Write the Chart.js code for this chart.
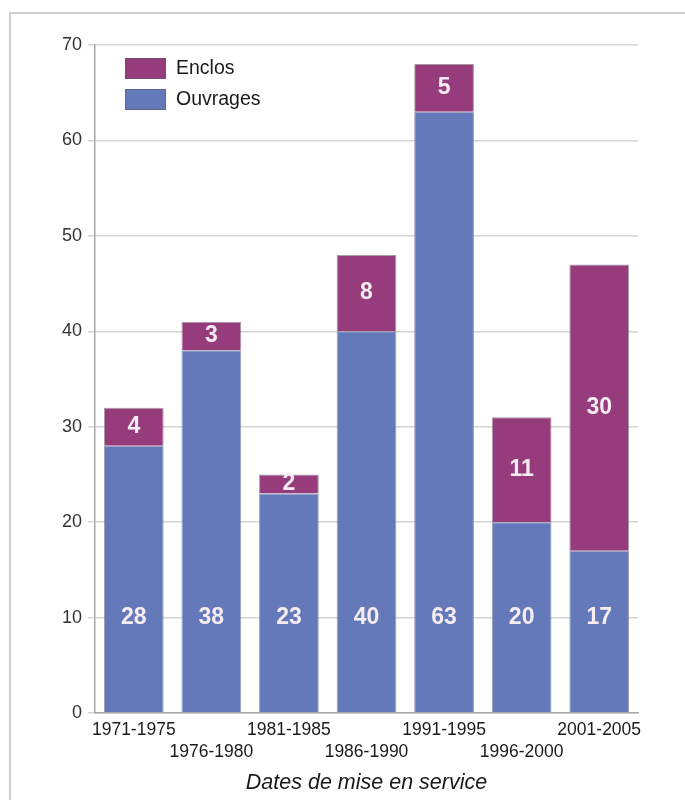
<!DOCTYPE html>
<html>
<head>
<meta charset="utf-8">
<script src="https://cdn.jsdelivr.net/npm/chart.js@4/dist/chart.umd.min.js"></script>
<style>
    html, body { margin: 0; padding: 0; background: #fff; }
    #frame {
        position: absolute; left: 9px; top: 12px; width: 676px; height: 788px;
        border-top: 2px solid #cfcfcf; border-left: 2px solid #cfcfcf; box-sizing: border-box;
    }
    #wrap { position: absolute; left: 0; top: 0; width: 685px; height: 800px; }
</style>
</head>
<body>
<div id="frame"></div>
<div id="wrap"><canvas id="graphique" width="685" height="800"></canvas></div>
<script>
const periodes = ['1971-1975', '1976-1980', '1981-1985', '1986-1990', '1991-1995', '1996-2000', '2001-2005'];
const ouvrages = [28, 38, 23, 40, 63, 20, 17];
const enclos = [4, 3, 2, 8, 5, 11, 30];
const graduations = [0, 10, 20, 30, 40, 50, 60, 70];

const couleurEnclos = '#963c7c';
const couleurOuvrages = '#6479ba';

document.addEventListener("DOMContentLoaded", function (e) {

    // etiquettes blanches dans les barres + legende dans le cadre
    const etiquettes = {
        id: 'etiquettes',
        afterDatasetsDraw(chart) {
            const ctx = chart.ctx;
            const y = chart.scales.y;
            const x = chart.scales.x;
            ctx.save();
            ctx.fillStyle = '#f6ecf2';
            ctx.font = 'bold 23px "Liberation Sans", Arial, sans-serif';
            ctx.textAlign = 'center';
            ctx.textBaseline = 'middle';
            periodes.forEach(function (p, i) {
                const cx = x.getPixelForValue(i);
                ctx.fillText(String(ouvrages[i]), cx, y.getPixelForValue(10));
                ctx.fillText(String(enclos[i]), cx, y.getPixelForValue(ouvrages[i] + enclos[i] / 2));
            });

            // legende
            const items = [['Enclos', couleurEnclos], ['Ouvrages', couleurOuvrages]];
            ctx.font = '19.5px "Liberation Sans", Arial, sans-serif';
            ctx.textAlign = 'left';
            items.forEach(function (it, k) {
                const top = 58 + k * 31;
                ctx.fillStyle = it[1];
                ctx.fillRect(125, top, 41, 21);
                ctx.strokeStyle = 'rgba(90,90,110,0.6)';
                ctx.lineWidth = 1;
                ctx.strokeRect(125.5, top + 0.5, 40, 20);
                ctx.fillStyle = '#1a1a1a';
                ctx.fillText(it[0], 176, top + 11);
            });
            ctx.restore();
        }
    };

    const graphique = new Chart(document.querySelector("#graphique"), {
        type: "bar",
        data: {
            labels: periodes,
            datasets: [{
                label: 'Ouvrages',
                data: ouvrages,
                backgroundColor: couleurOuvrages,
                borderColor: 'rgba(70,80,120,0.55)',
                borderWidth: 1
            }, {
                label: 'Enclos',
                data: enclos,
                backgroundColor: couleurEnclos,
                borderColor: 'rgba(90,70,90,0.55)',
                borderWidth: 1
            }]
        },
        options: {
            responsive: false,
            animation: false,
            layout: { padding: { top: 45, right: 47, left: 0, bottom: 0 } },
            datasets: { bar: { categoryPercentage: 1, barPercentage: 0.77 } },
            plugins: {
                legend: { display: false },
                tooltip: { enabled: false }
            },
            scales: {
                x: {
                    stacked: true,
                    grid: { display: false },
                    border: { color: '#a9a9a9', width: 1.5 },
                    ticks: {
                        autoSkip: false,
                        maxRotation: 0,
                        padding: -2,
                        color: '#1a1a1a',
                        font: { family: '"Liberation Sans", Arial, sans-serif', size: 17.5, lineHeight: 1.28 },
                        callback: function (v, i) {
                            return i % 2 === 0 ? [periodes[i]] : ['', periodes[i]];
                        }
                    },
                    title: {
                        display: true,
                        text: 'Dates de mise en service',
                        color: '#1a1a1a',
                        padding: { top: 2, bottom: 4 },
                        font: { family: '"Liberation Sans", Arial, sans-serif', size: 21.5, style: 'italic' }
                    },
                    afterFit: function (s) { s.height = 87; }
                },
                y: {
                    stacked: true,
                    min: 0,
                    max: 70,
                    afterBuildTicks: function (s) {
                        s.ticks = graduations.map(function (v) { return { value: v }; });
                    },
                    grid: { color: '#d4d4d4', lineWidth: 1.5, tickLength: 7, drawTicks: true },
                    border: { color: '#a9a9a9', width: 1.5 },
                    ticks: {
                        padding: 6,
                        color: '#333',
                        font: { family: '"Liberation Sans", Arial, sans-serif', size: 18 }
                    },
                    afterFit: function (s) { s.width = 95; }
                }
            }
        },
        plugins: [etiquettes]
    });

});
</script>
</body>
</html>
